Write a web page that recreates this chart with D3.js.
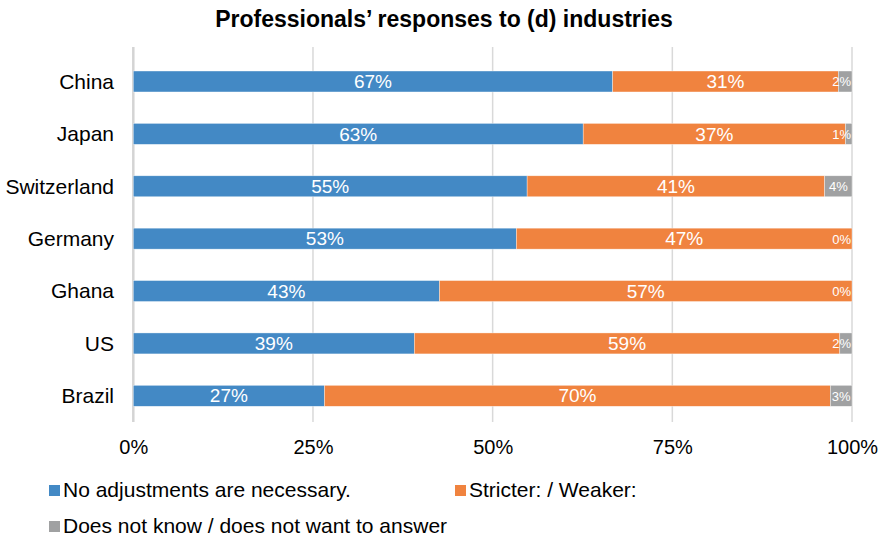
<!DOCTYPE html>
<html>
<head>
<meta charset="utf-8">
<script src="https://cdn.jsdelivr.net/npm/d3@7"></script>
<style>
  html, body { margin: 0; padding: 0; background: #fff; }
  svg { display: block; font-family: "Liberation Sans", Arial, sans-serif; }
</style>
</head>
<body>
<svg id="chart" width="885" height="539"></svg>
<script>
// Survey answers per country, in percent
const categories = ["China", "Japan", "Switzerland", "Germany", "Ghana", "US", "Brazil"];
const noAdjustments = [66.7, 62.6, 54.8, 53.3, 42.6, 39.1, 26.6];
const stricterWeaker = [31.4, 36.5, 41.4, 46.7, 57.4, 59.2, 70.4];
const doesNotKnow = [1.9, 0.9, 3.8, 0, 0, 1.7, 3.0];
const seriesNames = ["No adjustments are necessary.", "Stricter: / Weaker:", "Does not know / does not want to answer"];
const tickValues = [0, 25, 50, 75, 100];
const colors = ["#4389c5", "#f0833f", "#a0a1a2"];

const svg = d3.select("#chart");
const left = 133.3, right = 852, gridTop = 47, bottom = 422;

const rows = categories.map((c, i) => ({
  country: c, a: noAdjustments[i], b: stricterWeaker[i], c: doesNotKnow[i]
}));
const keys = ["a", "b", "c"];
const stacked = d3.stack().keys(keys)(rows);

const x = d3.scaleLinear().domain([0, 100]).range([left, right]);
const y = d3.scaleBand().domain(categories).range([55.3, bottom])
  .paddingInner(0.6).paddingOuter(0.3);

// Title
svg.append("text")
  .attr("x", 444).attr("y", 27)
  .attr("text-anchor", "middle")
  .attr("font-size", 23).attr("font-weight", "bold")
  .attr("fill", "#000")
  .text("Professionals’ responses to (d) industries");

// Vertical gridlines
svg.append("g").selectAll("line")
  .data(tickValues.slice(1))
  .join("line")
  .attr("x1", d => x(d)).attr("x2", d => x(d))
  .attr("y1", gridTop).attr("y2", bottom)
  .attr("stroke", "#d9d9d9").attr("stroke-width", 1.5);

// Category axis line at 0%
svg.append("line")
  .attr("x1", x(0)).attr("x2", x(0))
  .attr("y1", gridTop).attr("y2", bottom)
  .attr("stroke", "#d4d4d4").attr("stroke-width", 2.5);

// Stacked bars
const layers = svg.append("g").selectAll("g")
  .data(stacked)
  .join("g")
  .attr("fill", (d, i) => colors[i]);

layers.selectAll("rect")
  .data(d => d)
  .join("rect")
  .attr("x", d => x(d[0]))
  .attr("y", d => y(d.data.country))
  .attr("width", d => x(d[1]) - x(d[0]))
  .attr("height", y.bandwidth())
  .attr("stroke", "#ffffff").attr("stroke-width", 0.6).attr("stroke-opacity", 0.6);

// Value labels, taken from each segment's own value
const fmt = v => Math.round(v) + "%";
stacked.forEach((layer, li) => {
  const key = layer.key;
  layer.forEach(d => {
    const v = d.data[key];
    const cy = y(d.data.country) + y.bandwidth() / 2;
    const cx = (x(d[0]) + x(d[1])) / 2;
    const t = svg.append("text")
      .attr("y", cy)
      .attr("fill", "#ffffff")
      .attr("text-anchor", "middle")
      .text(fmt(v));
    if (li < 2) {
      t.attr("x", cx).attr("font-size", 19).attr("dy", "0.35em");
    } else {
      t.attr("font-size", 13).attr("dy", "0.38em");
      const w = t.node().getComputedTextLength();
      t.attr("x", Math.min(cx, right - 1 - w / 2));
    }
  });
});

// Category labels
svg.append("g").selectAll("text")
  .data(categories)
  .join("text")
  .attr("x", 114)
  .attr("y", d => y(d) + y.bandwidth() / 2)
  .attr("dy", "0.35em")
  .attr("text-anchor", "end")
  .attr("font-size", 21)
  .attr("fill", "#000")
  .text(d => d);

// Percent axis
const xAxis = d3.axisBottom(x).tickValues(tickValues).tickSize(0).tickFormat(d => d + "%");
const ax = svg.append("g").attr("transform", `translate(0,${bottom})`).call(xAxis);
ax.select(".domain").remove();
ax.selectAll("text")
  .attr("font-size", 20)
  .attr("font-family", "Liberation Sans, Arial, sans-serif")
  .attr("fill", "#000")
  .attr("y", 32).attr("dy", 0);

// Legend
const legendItems = [
  { name: seriesNames[0], color: colors[0], x: 49, y: 497 },
  { name: seriesNames[1], color: colors[1], x: 455, y: 497 },
  { name: seriesNames[2], color: colors[2], x: 49, y: 533 }
];
const lg = svg.append("g").selectAll("g").data(legendItems).join("g")
  .attr("transform", d => `translate(${d.x},${d.y})`);
lg.append("rect").attr("x", 0).attr("y", -12).attr("width", 11).attr("height", 11)
  .attr("fill", d => d.color);
lg.append("text").attr("x", 14).attr("y", 0)
  .attr("font-size", 21).attr("fill", "#000")
  .text(d => d.name);
</script>
</body>
</html>
